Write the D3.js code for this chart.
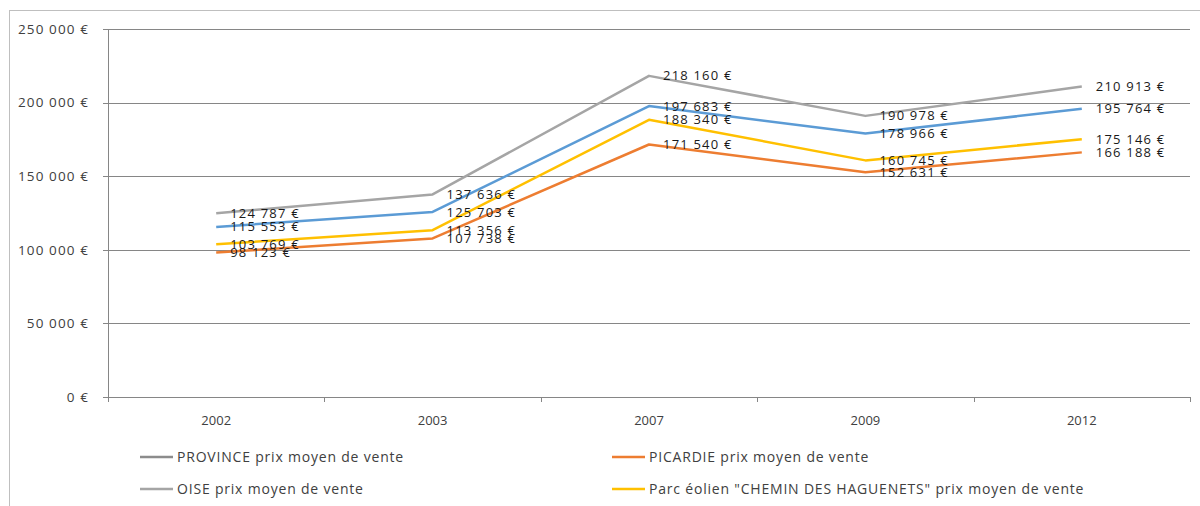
<!DOCTYPE html>
<meta charset="utf-8">
<head>
<script src="https://d3js.org/d3.v7.min.js"></script>
<style>
  body { margin: 0; background: #fff; font-family: "Open Sans", "DejaVu Sans", sans-serif; }
</style>
</head>
<body>
<svg></svg>
<script>
  // Data
  var years = ["2002", "2003", "2007", "2009", "2012"];
  var province = [124787, 137636, 218160, 190978, 210913];
  var oise = [115553, 125703, 197683, 178966, 195764];
  var parc = [103769, 113356, 188340, 160745, 175146];
  var picardie = [98123, 107738, 171540, 152631, 166188];
  var yTicks = [0, 50000, 100000, 150000, 200000, 250000];
  var legendLabels = [
    "PROVINCE prix moyen de vente",
    "PICARDIE prix moyen de vente",
    "OISE prix moyen de vente",
    "Parc éolien \"CHEMIN DES HAGUENETS\" prix moyen de vente"
  ];

  var width = 1200, height = 506;
  var margin = { left: 108, right: 10, top: 29, bottom: 109 };

  var svg = d3.select("svg").attr("width", width).attr("height", height);

  // chart frame
  svg.append("rect").attr("x", 9.5).attr("y", 10.5).attr("width", 1200).attr("height", 520)
    .attr("fill", "none").attr("stroke", "#bfbfbf");

  var x = d3.scaleBand().domain(years).range([margin.left, width - margin.right]);
  var y = d3.scaleLinear().domain([0, 250000]).range([height - margin.bottom, margin.top]);

  var fmt = function (v) { return d3.format(",")(v).replace(/,/g, " ") + " €"; };

  // gridlines
  svg.append("g").selectAll("line").data(yTicks).enter().append("line")
    .attr("x1", margin.left - 5).attr("x2", width - margin.right)
    .attr("y1", function (d) { return Math.round(y(d)) + 0.5; })
    .attr("y2", function (d) { return Math.round(y(d)) + 0.5; })
    .attr("stroke", "#868686");

  // y labels
  svg.append("g").selectAll("text").data(yTicks).enter().append("text")
    .attr("x", 89).attr("y", function (d) { return y(d); }).attr("dy", "0.35em")
    .attr("text-anchor", "end").attr("font-size", 13.5).attr("letter-spacing", 1.1)
    .attr("fill", "#404040")
    .text(fmt);

  // y axis line
  svg.append("line").attr("x1", margin.left + 0.5).attr("x2", margin.left + 0.5)
    .attr("y1", y(250000)).attr("y2", y(0)).attr("stroke", "#868686");

  // x ticks at band boundaries
  var bounds = years.map(function (d) { return x(d); }).concat([x.range()[1]]);
  svg.append("g").selectAll("line").data(bounds).enter().append("line")
    .attr("x1", function (d) { return Math.round(d) + 0.5; })
    .attr("x2", function (d) { return Math.round(d) + 0.5; })
    .attr("y1", y(0)).attr("y2", y(0) + 5).attr("stroke", "#868686");

  svg.append("g").selectAll("text").data(years).enter().append("text")
    .attr("x", function (d) { return x(d) + x.bandwidth() / 2; })
    .attr("y", 425).attr("text-anchor", "middle").attr("font-size", 13).attr("fill", "#404040")
    .text(function (d) { return d; });

  // lines
  var series = [
    { values: province, color: "#a5a5a5" },
    { values: oise, color: "#5b9bd5" },
    { values: parc, color: "#ffc000" },
    { values: picardie, color: "#ed7d31" }
  ];
  var line = d3.line()
    .x(function (d, i) { return x(years[i]) + x.bandwidth() / 2; })
    .y(function (d) { return y(d); });

  series.forEach(function (s) {
    svg.append("path").datum(s.values).attr("d", line)
      .attr("fill", "none").attr("stroke", s.color).attr("stroke-width", 2.5)
      .attr("stroke-linejoin", "round");
  });

  series.forEach(function (s) {
    svg.append("g").selectAll("text").data(s.values).enter().append("text")
      .attr("x", function (d, i) { return x(years[i]) + x.bandwidth() / 2 + 14; })
      .attr("y", function (d) { return y(d); }).attr("dy", "0.35em")
      .attr("font-size", 13).attr("letter-spacing", 1.2).attr("fill", "#1a1a1a")
      .text(fmt);
  });

  // legend
  var legendColors = ["#8c8c8c", "#ed7d31", "#a5a5a5", "#ffc000"];
  var legendPos = [[140, 457], [612, 457], [140, 489], [612, 489]];
  legendLabels.forEach(function (t, i) {
    var p = legendPos[i];
    svg.append("line").attr("x1", p[0]).attr("x2", p[0] + 33).attr("y1", p[1]).attr("y2", p[1])
      .attr("stroke", legendColors[i]).attr("stroke-width", 2.5);
    svg.append("text").attr("x", p[0] + 37).attr("y", p[1]).attr("dy", "0.35em")
      .attr("font-size", 14).attr("letter-spacing", 0.8).attr("fill", "#404040").text(t);
  });
</script>
</body>
</html>
